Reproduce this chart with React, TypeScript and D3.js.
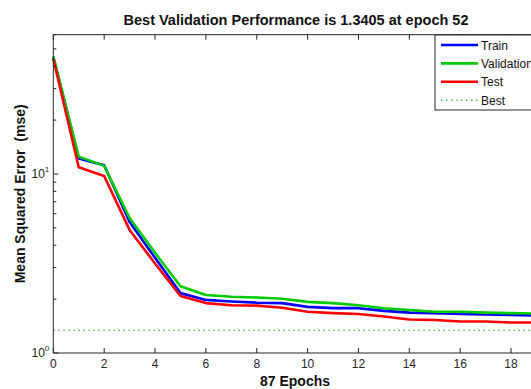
import { useEffect, useRef } from "react";
import * as d3 from "d3";

// values (mse per epoch)
const epochs = [0, 1, 2, 3, 4, 5, 6, 7, 8, 9, 10, 11, 12, 13, 14, 15, 16, 17, 18, 19];
const trainMse = [45, 12.2, 11.2, 5.39, 3.4, 2.16, 1.98, 1.94, 1.91, 1.9, 1.81, 1.78, 1.78, 1.72, 1.68, 1.67, 1.65, 1.64, 1.63, 1.62];
const validationMse = [45.5, 12.5, 11.1, 5.68, 3.63, 2.36, 2.11, 2.06, 2.04, 2.01, 1.93, 1.9, 1.85, 1.78, 1.74, 1.7, 1.7, 1.68, 1.67, 1.66];
const testMse = [44, 10.9, 9.75, 4.87, 3.16, 2.08, 1.9, 1.85, 1.84, 1.79, 1.7, 1.67, 1.65, 1.6, 1.54, 1.53, 1.5, 1.5, 1.48, 1.48];
const bestPerf = 1.3405;
const xTicks = [0, 2, 4, 6, 8, 10, 12, 14, 16, 18];
const yMajor = [1, 10];
const legendLabels = ["Train", "Validation", "Test", "Best"];

export default function App() {
  const ref = useRef<SVGSVGElement>(null);

  useEffect(() => {
    if (!ref.current) return;
    const svg = d3.select(ref.current);
    svg.selectAll("*").remove();

    const font = "Arial, 'Liberation Sans', sans-serif";
    const axisColor = "#262626";
    const left = 53.3, top = 34.7, bottom = 353;

    const x = d3.scaleLinear().domain([0, 20]).range([left, left + 20 * 25.43]);
    const y = d3.scaleLog().domain([1, 60]).range([bottom, top]);

    const g = svg.append("g");

    // lines
    const line = d3.line<number>()
      .x((_, i) => x(epochs[i]))
      .y((d) => y(d));

    const series = [
      { vals: trainMse, color: "#0000ff" },
      { vals: validationMse, color: "#00cc00" },
      { vals: testMse, color: "#ff0000" },
    ];
    series.forEach((s) => {
      g.append("path")
        .attr("d", line(s.vals))
        .attr("fill", "none")
        .attr("stroke", s.color)
        .attr("stroke-width", 2.6)
        .attr("stroke-linejoin", "round");
    });

    // best line
    g.append("line")
      .attr("x1", x(0)).attr("x2", x(20))
      .attr("y1", y(bestPerf)).attr("y2", y(bestPerf))
      .attr("stroke", "#00aa00")
      .attr("stroke-width", 1)
      .attr("stroke-dasharray", "1.5,3.5");

    // axes box
    g.append("line").attr("x1", left).attr("x2", left).attr("y1", top).attr("y2", bottom)
      .attr("stroke", axisColor).attr("stroke-width", 1);
    g.append("line").attr("x1", left).attr("x2", 540).attr("y1", bottom).attr("y2", bottom)
      .attr("stroke", axisColor).attr("stroke-width", 1);
    g.append("line").attr("x1", left).attr("x2", 540).attr("y1", top).attr("y2", top)
      .attr("stroke", axisColor).attr("stroke-width", 1);

    // x ticks
    xTicks.forEach((t) => {
      g.append("line").attr("x1", x(t)).attr("x2", x(t)).attr("y1", bottom).attr("y2", bottom - 5)
        .attr("stroke", axisColor);
      g.append("line").attr("x1", x(t)).attr("x2", x(t)).attr("y1", top).attr("y2", top + 5)
        .attr("stroke", axisColor);
      g.append("text")
        .attr("x", x(t)).attr("y", bottom + 15)
        .attr("text-anchor", "middle")
        .attr("font-family", font).attr("font-size", 12)
        .attr("fill", axisColor)
        .text(String(t));
    });

    // y ticks (log)
    const minor = y.ticks().filter((v) => v > 1 && v < 60 && !yMajor.includes(v));
    minor.concat([60]).forEach((v) => {
      g.append("line").attr("x1", left).attr("x2", left + 3).attr("y1", y(v)).attr("y2", y(v))
        .attr("stroke", axisColor);
    });
    yMajor.forEach((v) => {
      g.append("line").attr("x1", left).attr("x2", left + 5).attr("y1", y(v)).attr("y2", y(v))
        .attr("stroke", axisColor);
      const txt = g.append("text")
        .attr("x", left - 4).attr("y", y(v) + 4)
        .attr("text-anchor", "end")
        .attr("font-family", font).attr("font-size", 12)
        .attr("fill", axisColor);
      txt.append("tspan").text("10");
      txt.append("tspan").attr("dy", -6).attr("font-size", 8).text(String(Math.log10(v)));
    });

    // title
    svg.append("text")
      .attr("x", 296).attr("y", 25)
      .attr("text-anchor", "middle")
      .attr("font-family", font).attr("font-size", 14.5).attr("font-weight", "bold")
      .attr("fill", "#111")
      .text("Best Validation Performance is 1.3405 at epoch 52");

    // x label
    svg.append("text")
      .attr("x", 295).attr("y", 386)
      .attr("text-anchor", "middle")
      .attr("font-family", font).attr("font-size", 14).attr("font-weight", "bold")
      .attr("fill", "#111")
      .text("87 Epochs");

    // y label
    svg.append("text")
      .attr("transform", `translate(25,${(top + bottom) / 2}) rotate(-90)`)
      .attr("text-anchor", "middle")
      .attr("font-family", font).attr("font-size", 14).attr("font-weight", "bold")
      .attr("fill", "#111")
      .attr("xml:space", "preserve")
      .style("white-space", "pre")
      .text("Mean Squared Error  (mse)");

    // legend
    const lg = svg.append("g");
    lg.append("rect")
      .attr("x", 435).attr("y", 35).attr("width", 120).attr("height", 75)
      .attr("fill", "#fff").attr("stroke", axisColor).attr("stroke-width", 1);
    const legendColors = ["#0000ff", "#00cc00", "#ff0000", "#00aa00"];
    legendLabels.forEach((lab, i) => {
      const ly = 45 + i * 18.4;
      lg.append("line")
        .attr("x1", 441).attr("x2", 478).attr("y1", ly).attr("y2", ly)
        .attr("stroke", legendColors[i])
        .attr("stroke-width", i === 3 ? 1 : 2.6)
        .attr("stroke-dasharray", i === 3 ? "1.5,3.5" : null);
      lg.append("text")
        .attr("x", 481).attr("y", ly + 4.5)
        .attr("font-family", font).attr("font-size", 12)
        .attr("fill", "#111")
        .text(lab);
    });
  }, []);

  return (
    <svg
      ref={ref}
      width={531}
      height={389}
      style={{ position: "absolute", left: 0, top: 0, background: "#fff" }}
    />
  );
}
